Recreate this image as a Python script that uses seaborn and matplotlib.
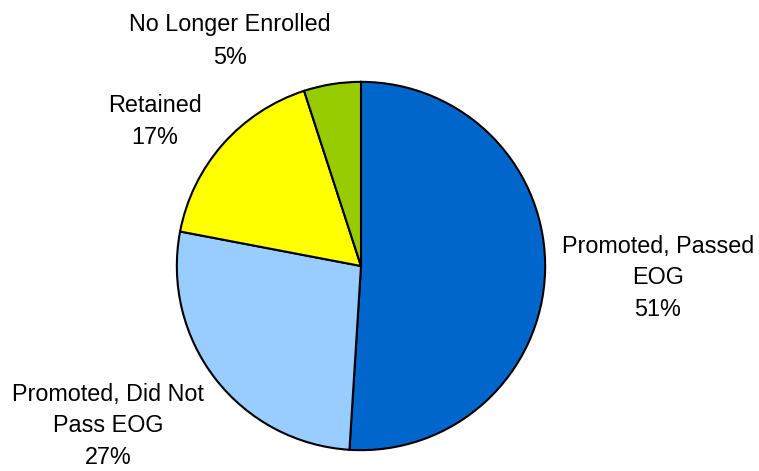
import matplotlib
matplotlib.use("Agg")
import matplotlib.pyplot as plt
import seaborn as sns

categories = ["Promoted, Passed\nEOG", "Promoted, Did Not\nPass EOG", "Retained", "No Longer Enrolled"]
values = [51, 27, 17, 5]
colors = ["#0066CC", "#99CCFF", "#FFFF00", "#99CC00"]
# label centres in pixel coordinates (x from left, y from top)
label_pos = [(658, 278), (108, 426), (155, 122), (230, 41)]

sns.set_theme(style="white")
plt.rcParams['font.family'] = ['Liberation Sans', 'DejaVu Sans']

W, H = 759, 471
fig = plt.figure(figsize=(W / 100, H / 100), dpi=100)
fig.patch.set_facecolor("white")

# pie area in pixels: x 175..547, y 80..452
px0, px1, py0, py1 = 175, 547, 80, 452
ax = fig.add_axes([px0 / W, (H - py1) / H, (px1 - px0) / W, (py1 - py0) / H])
ax.pie(values, colors=colors, startangle=90, counterclock=False,
       wedgeprops=dict(edgecolor="black", linewidth=1.5), radius=1.0)
ax.set_xlim(-1.01, 1.01)
ax.set_ylim(-1.01, 1.01)
ax.set_aspect("equal")
ax.axis("off")

for cat, v, (x, y) in zip(categories, values, label_pos):
    fig.text(x / W, 1 - y / H, f"{cat}\n{v}%", ha="center", va="center",
             fontsize=16.8, color="black", linespacing=1.5)

fig.savefig("out.png", dpi=100, facecolor="white")
